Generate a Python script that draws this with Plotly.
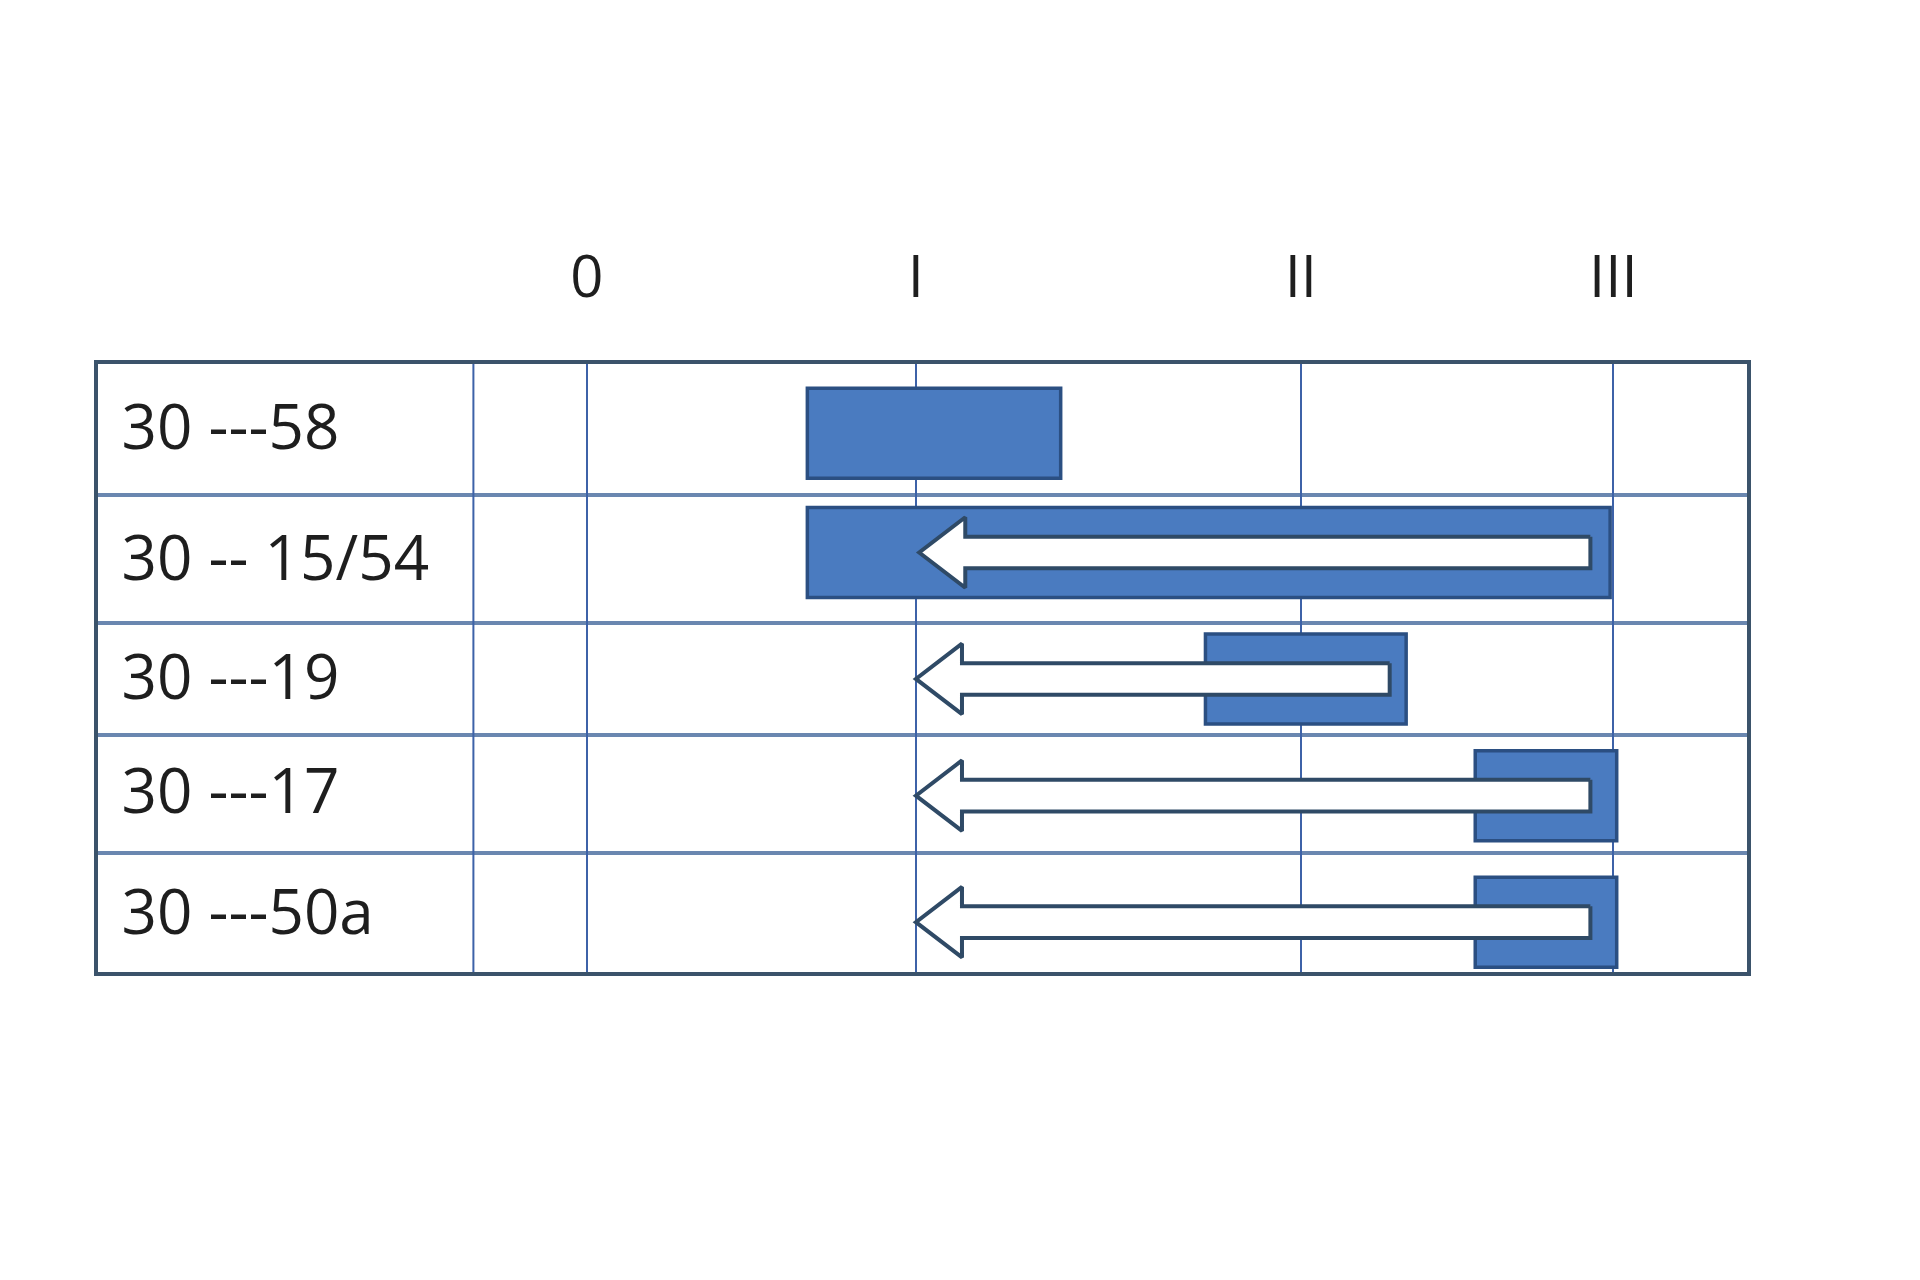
import plotly.graph_objects as go

# ---- data ----
row_labels = ["30 ---58", "30 -- 15/54", "30 ---19", "30 ---17", "30 ---50a"]
row_pos = [0.07, 1.05, 2.09, 3.05, 4.09]
label_pos = [0.02, 1.10, 2.08, 3.01, 4.01]
row_edges = [0.58, 1.63, 2.55, 3.52]
stage_labels = ["0", "I", "II", "III"]
stage_pos = [0.0, 1.0, 2.17, 3.12]
bar_start = [0.67, 0.67, 1.88, 2.70, 2.70]
bar_end = [1.44, 3.11, 2.49, 3.13, 3.13]
arrow_tail = [None, 3.05, 2.44, 3.05, 3.05]
arrow_tip = [None, 1.01, 1.0, 1.0, 1.0]

# ---- style ----
BAR_FILL = "#4a7bc0"
BAR_EDGE = "#2b4f82"
ARROW_EDGE = "#2f4a66"
VGRID = "#3d62a8"
HGRID = "#6a87b0"
BORDER = "#3b536b"
FONT = "Open Sans"
TEXT = "#1e1e1e"
X_RANGE = [-1.486, 3.526]
LABEL_DIVIDER = -0.345
SHAFT = 0.13
HEAD = 0.29
HEAD_LEN = 0.14

fig = go.Figure()

fig.add_trace(go.Bar(
    y=row_pos,
    base=bar_start,
    x=[e - s for s, e in zip(bar_start, bar_end)],
    orientation="h",
    width=0.74,
    marker=dict(color=BAR_FILL, line=dict(color=BAR_EDGE, width=3.5)),
    hoverinfo="skip",
    showlegend=False,
))

# hollow arrows pointing left, built from tail/tip values
ax, ay = [], []
for r, tail, tip in zip(row_pos, arrow_tail, arrow_tip):
    if tail is None:
        continue
    neck = tip + HEAD_LEN
    ax += [tail, neck, neck, tip, neck, neck, tail, tail, None]
    ay += [r - SHAFT, r - SHAFT, r - HEAD, r, r + HEAD, r + SHAFT, r + SHAFT, r - SHAFT, None]
fig.add_trace(go.Scatter(
    x=ax, y=ay, mode="lines", fill="toself", fillcolor="white",
    line=dict(color=ARROW_EDGE, width=4), hoverinfo="skip", showlegend=False,
))

fig.add_shape(type="line", xref="x", yref="paper", x0=LABEL_DIVIDER, x1=LABEL_DIVIDER,
              y0=0, y1=1, line=dict(color=VGRID, width=2))

fig.update_layout(
    width=1920, height=1280,
    margin=dict(l=90, r=181, t=356, b=316),
    paper_bgcolor="white", plot_bgcolor="white",
    font=dict(family=FONT, color=TEXT),
)
fig.update_xaxes(
    range=X_RANGE, side="top", automargin=False,
    tickmode="array", tickvals=stage_pos, ticktext=stage_labels,
    tickfont=dict(size=58, family=FONT, color=TEXT),
    ticks="", ticklabelstandoff=40,
    showgrid=True, gridcolor=VGRID, gridwidth=2, zeroline=False,
    showline=True, mirror=True, linecolor=BORDER, linewidth=4,
)
fig.update_yaxes(
    range=[4.5, -0.5], automargin=False,
    tickmode="array", tickvals=label_pos, ticktext=row_labels,
    ticklabelposition="inside", ticklabelstandoff=33,
    tickfont=dict(size=62, family=FONT, color=TEXT),
    ticks="", showgrid=False, zeroline=False,
    minor=dict(tickmode="array", tickvals=row_edges, showgrid=True,
               gridcolor=HGRID, gridwidth=4, ticks=""),
    showline=True, mirror=True, linecolor=BORDER, linewidth=4,
)

fig.write_html("out.html")
